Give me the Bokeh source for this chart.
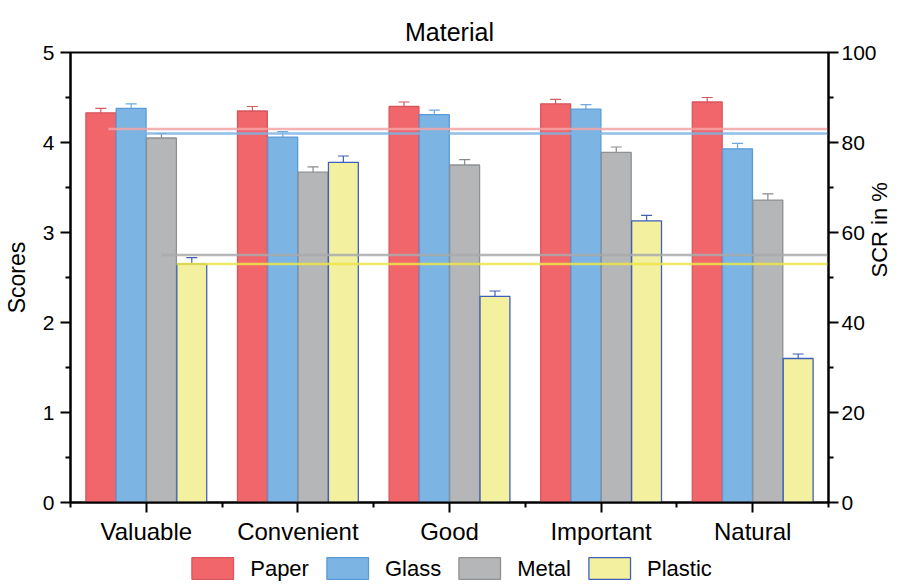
import math
from bokeh.plotting import figure
from bokeh.layouts import column
from bokeh.models import (ColumnDataSource, Range1d, LinearAxis, FixedTicker,
                          Whisker, Legend, LegendItem)
from bokeh.embed import file_html
from bokeh.resources import INLINE

# Attribute categories and mean scores per packaging material
categories = ["Valuable", "Convenient", "Good", "Important", "Natural"]
materials = ["Paper", "Glass", "Metal", "Plastic"]

paper = [4.33, 4.35, 4.40, 4.43, 4.45]
glass = [4.38, 4.06, 4.31, 4.37, 3.93]
metal = [4.05, 3.67, 3.75, 3.89, 3.36]
plastic = [2.65, 3.78, 2.29, 3.13, 1.60]

paper_err = [0.05, 0.05, 0.05, 0.05, 0.05]
glass_err = [0.05, 0.06, 0.05, 0.05, 0.06]
metal_err = [0.05, 0.06, 0.06, 0.06, 0.07]
plastic_err = [0.07, 0.07, 0.06, 0.06, 0.05]

# Sustainability consumption rate (right axis, %)
scr = [83.0, 82.0, 55.0, 53.0]

FONT = "Liberation Sans"
fills = ["#f0666b", "#7cb4e3", "#b4b6b7", "#f3f0a0"]
edges = ["#d8565c", "#5a9ad6", "#8e9091", "#3f5fb8"]
err_cols = ["#d05a60", "#6aaae0", "#8a8a8a", "#3f5fb8"]
scr_cols = ["#f5a3a6", "#7cb4e3", "#a9aaab", "#ece64a"]
scr_start = [0.75, 0.95, 1.10, 1.20]

values = [paper, glass, metal, plastic]
errors = [paper_err, glass_err, metal_err, plastic_err]
offsets = [-0.3, -0.1, 0.1, 0.3]
xs = [i + 1 for i in range(len(categories))]

BAR_W = 0.197

p = figure(width=907, height=549, output_backend="svg", toolbar_location=None,
           x_range=Range1d(0.5, 5.5), y_range=Range1d(0, 5),
           min_border_left=69, min_border_right=78, min_border_top=52,
           min_border_bottom=47)
p.title.text = "Material"
p.title.align = "center"
p.title.vertical_align = "top"
p.title.text_font = FONT
p.title.text_font_size = "25px"
p.title.text_font_style = "normal"
p.title.text_color = "black"
p.title.offset = 0
p.title.standoff = 10

p.xgrid.visible = False
p.ygrid.visible = False
p.outline_line_color = "black"
p.outline_line_width = 2

p.extra_y_ranges = {"scr": Range1d(0, 100)}

for k, name in enumerate(materials):
    bx = [x + offsets[k] for x in xs]
    top = values[k]
    err = errors[k]
    src = ColumnDataSource(dict(x=bx, top=top,
                                lo=[t - e for t, e in zip(top, err)],
                                hi=[t + e for t, e in zip(top, err)]))
    p.vbar(x="x", top="top", width=BAR_W, source=src, fill_color=fills[k],
           line_color=edges[k], line_width=1.3)
    w = Whisker(base="x", lower="lo", upper="hi", source=src,
                line_color=err_cols[k], line_width=1.2)
    w.upper_head.size = 11
    w.lower_head.size = 11
    w.upper_head.line_color = err_cols[k]
    w.lower_head.line_color = err_cols[k]
    w.upper_head.line_width = 1.2
    w.lower_head.line_width = 1.2
    p.add_layout(w)

# SCR reference lines on the right axis
for k in range(len(materials)):
    p.segment(x0=[scr_start[k]], x1=[5.5], y0=[scr[k]], y1=[scr[k]],
              y_range_name="scr", line_color=scr_cols[k], line_width=2.5,
              line_alpha=0.85)

# Axes styling
def style_axis(ax, label_px, title_px):
    ax.axis_line_width = 2
    ax.axis_line_color = "black"
    ax.major_tick_line_width = 2
    ax.minor_tick_line_width = 2
    ax.major_tick_in = 0
    ax.major_tick_out = 10
    ax.minor_tick_in = 0
    ax.minor_tick_out = 5
    ax.major_label_text_font = FONT
    ax.major_label_text_font_size = label_px
    ax.major_label_text_color = "black"
    ax.axis_label_text_font = FONT
    ax.axis_label_text_font_size = title_px
    ax.axis_label_text_font_style = "normal"
    ax.axis_label_text_color = "black"

xa = p.xaxis[0]
xa.ticker = FixedTicker(ticks=xs, minor_ticks=[0.5, 1.5, 2.5, 3.5, 4.5, 5.5])
xa.major_label_overrides = {x: c for x, c in zip(xs, categories)}
style_axis(xa, "24px", "24px")
xa.major_label_standoff = 5

ya = p.yaxis[0]
ya.ticker = FixedTicker(ticks=[0, 1, 2, 3, 4, 5],
                        minor_ticks=[0.5, 1.5, 2.5, 3.5, 4.5])
ya.axis_label = "Scores"
style_axis(ya, "21px", "23px")
ya.major_label_standoff = 6
ya.axis_label_standoff = 10

yr = LinearAxis(y_range_name="scr", axis_label="SCR in %")
yr.ticker = FixedTicker(ticks=[0, 20, 40, 60, 80, 100],
                        minor_ticks=[10, 30, 50, 70, 90])
style_axis(yr, "21px", "22px")
yr.major_label_standoff = 3
yr.axis_label_standoff = 0
yr.axis_label_orientation = math.pi / 2
p.add_layout(yr, "right")

# Legend strip under the chart; its swatches mirror the bar styles
leg_fig = figure(width=907, height=38, output_backend="svg",
                 toolbar_location=None, x_range=Range1d(0, 1),
                 y_range=Range1d(0, 1), min_border=0)
leg_fig.axis.visible = False
leg_fig.grid.visible = False
leg_fig.outline_line_color = None

items = []
for k, name in enumerate(materials):
    # undrawn (NaN) bar per material, only used for the legend swatch
    r = leg_fig.vbar(x=[math.nan], top=[math.nan], width=BAR_W,
                     fill_color=fills[k], line_color=edges[k], line_width=1.3)
    items.append(LegendItem(label=name, renderers=[r]))

legend = Legend(items=items, orientation="horizontal", location="center",
                glyph_width=52, glyph_height=27, label_text_font=FONT,
                label_text_font_size="22px", label_text_color="black",
                spacing=12, padding=0, margin=0, border_line_color=None,
                background_fill_alpha=0, label_standoff=12)
leg_fig.add_layout(legend)

open("out.html", "w").write(file_html(column(p, leg_fig), INLINE))
